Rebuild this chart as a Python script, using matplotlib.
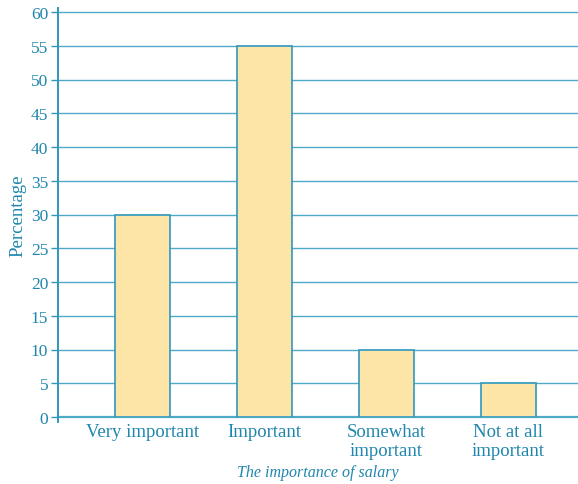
import matplotlib
matplotlib.use("Agg")
import matplotlib.pyplot as plt

categories = ["Very important", "Important", "Somewhat\nimportant", "Not at all\nimportant"]
percentages = [30, 55, 10, 5]
y_ticks = [0, 5, 10, 15, 20, 25, 30, 35, 40, 45, 50, 55, 60]

text_color = "#1f86ad"
grid_color = "#4fa9c8"
bar_fill = "#fde5a8"
bar_edge = "#2f97bd"

plt.rcParams["font.family"] = ["Liberation Serif", "DejaVu Serif"]

fig = plt.figure(figsize=(5.78, 4.85), dpi=100)
ax = fig.add_axes([58 / 578, 1 - 418 / 485, 1 - 58 / 578, (418 - 13) / 485])

x = list(range(len(categories)))
ax.bar(x, percentages, width=0.45, color=bar_fill, edgecolor=bar_edge,
       linewidth=1.2, zorder=3)

ax.set_ylim(0, 60)
ax.set_xlim(-0.693, 3.57)
ax.set_yticks(y_ticks)
ax.set_yticklabels([str(v) for v in y_ticks], color=text_color, fontsize=12.5)
ax.set_xticks(x)
ax.set_xticklabels(categories, color=text_color, fontsize=13.5, linespacing=1.15)
ax.tick_params(axis="x", length=0, pad=4)
ax.tick_params(axis="y", direction="out", length=5, width=1.0, color=bar_edge, pad=2)

for v in y_ticks:
    ax.axhline(v, color=grid_color, linewidth=1.6 if v == 0 else 1.0, zorder=1,
               clip_on=False)

for side in ["top", "right", "bottom"]:
    ax.spines[side].set_visible(False)
ax.spines["left"].set_color(bar_edge)
ax.spines["left"].set_linewidth(1.4)
ax.spines["left"].set_bounds(-0.7, 60.6)

ax.set_ylabel("Percentage", color=text_color, fontsize=13.5, labelpad=3)
ax.set_xlabel("The importance of salary", color=text_color, fontsize=11.5,
              style="italic", labelpad=4)

fig.savefig("out.png", dpi=100)
